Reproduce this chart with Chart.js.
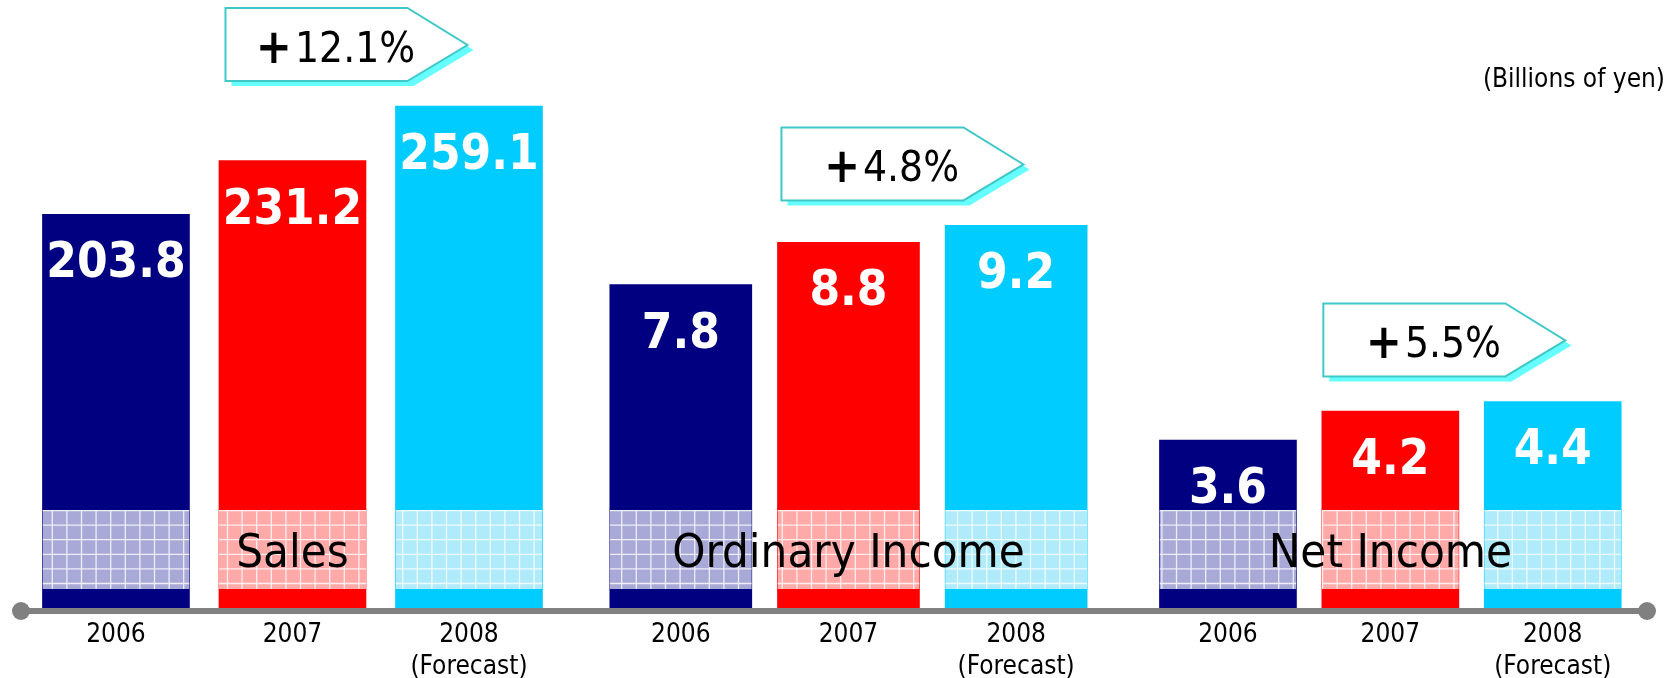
<!DOCTYPE html>
<html>
<head>
<meta charset="utf-8">
<script src="https://cdn.jsdelivr.net/npm/chart.js@4.4.1/dist/chart.umd.min.js"></script>
<style>
html, body { margin: 0; padding: 0; background: #fff; }
#wrap { width: 1674px; height: 678px; position: relative; }
</style>
</head>
<body>
<div id="wrap"><canvas id="resultsChart"></canvas></div>
<script>
var groupNames = ['Sales', 'Ordinary Income', 'Net Income'];
var yearLabels = [['2006'], ['2007'], ['2008', '(Forecast)']];
var salesValues = [203.8, 231.2, 259.1];
var ordinaryValues = [7.8, 8.8, 9.2];
var netValues = [3.6, 4.2, 4.4];
var growthRates = [12.1, 4.8, 5.5];
// slot of each bar on the x axis (groups are spaced a bit wider apart)
var salesSlots = [0, 1, 2];
var ordinarySlots = [3.2, 4.15, 5.1];
var netSlots = [6.3, 7.22, 8.14];

var barColors = ['#000080', '#ff0000', '#00ccff'];
var bandColors = ['#a9a9d8', '#ffa9a9', '#b0ebfb'];
var fontFamily = '"DejaVu Sans Condensed", "DejaVu Sans", sans-serif';

function setDataset(label, slots, values, axisId, width) {
    return {
        label: label,
        data: slots.map(function (s, i) { return { x: s, y: values[i] }; }),
        backgroundColor: barColors,
        borderWidth: 0,
        grouped: false,
        categoryPercentage: 1,
        barPercentage: 1,
        maxBarThickness: width,
        yAxisID: axisId
    };
}

var dataForResults = {
    datasets: [
        setDataset('Sales', salesSlots, salesValues, 'ySales', 147),
        setDataset('Ordinary Income', ordinarySlots, ordinaryValues, 'yOrdinary', 142),
        setDataset('Net Income', netSlots, netValues, 'yNet', 137)
    ]
};
var allSlots = salesSlots.concat(ordinarySlots, netSlots);

// grid band, numbers and group names on the bars
var barDecorations = {
    id: 'barDecorations',
    afterDatasetsDraw: function (chart) {
        var ctx = chart.ctx;
        var step = 14.6;
        chart.data.datasets.forEach(function (ds, g) {
            var bars = chart.getDatasetMeta(g).data;
            bars.forEach(function (bar, i) {
                var left = bar.x - bar.width / 2;
                var w = bar.width;
                var bandTop = bar.base - 104;
                var top = Math.max(bandTop, bar.y);
                var bottom = bar.base - 25;
                ctx.save();
                ctx.beginPath();
                ctx.rect(left, top, w, bottom - top);
                ctx.clip();
                ctx.fillStyle = bandColors[i];
                ctx.fillRect(left, top, w, bottom - top);
                ctx.strokeStyle = 'rgba(255,255,255,0.8)';
                ctx.lineWidth = 1.3;
                ctx.beginPath();
                var x0 = left - (((left - 52.3) % step) + step) % step;
                for (var x = x0; x <= left + w; x += step) {
                    ctx.moveTo(x, top);
                    ctx.lineTo(x, bottom);
                }
                for (var y = bandTop + 0.5; y <= bottom; y += step) {
                    ctx.moveTo(left, y);
                    ctx.lineTo(left + w, y);
                }
                ctx.stroke();
                ctx.restore();

                ctx.save();
                ctx.fillStyle = '#ffffff';
                ctx.font = 'bold 49px ' + fontFamily;
                ctx.textAlign = 'center';
                ctx.textBaseline = 'alphabetic';
                ctx.fillText(ds.data[i].y.toFixed(1), bar.x, bar.y + 63);
                ctx.restore();
            });
            ctx.save();
            ctx.fillStyle = '#000000';
            ctx.font = '47px ' + fontFamily;
            ctx.textAlign = 'center';
            ctx.textBaseline = 'alphabetic';
            ctx.fillText(groupNames[g], bars[1].x, bars[1].base - 47);
            ctx.restore();
        });
    },
    afterDraw: function (chart) {
        var ctx = chart.ctx;
        var area = chart.chartArea;
        // axis line with round ends
        var ly = area.bottom - 3;
        ctx.save();
        ctx.strokeStyle = '#808080';
        ctx.fillStyle = '#808080';
        ctx.lineWidth = 6;
        ctx.beginPath();
        ctx.moveTo(area.left + 21, ly);
        ctx.lineTo(area.right - 18, ly);
        ctx.stroke();
        [area.left + 21, area.right - 18].forEach(function (cx) {
            ctx.beginPath();
            ctx.arc(cx, ly, 9, 0, Math.PI * 2);
            ctx.fill();
        });
        ctx.restore();

        // growth callouts
        chart.data.datasets.forEach(function (ds, g) {
            var bars = chart.getDatasetMeta(g).data;
            var L = bars[1].x - 67;
            var T = bars[2].y - 98;
            var shape = function (dx, dy) {
                ctx.beginPath();
                ctx.moveTo(L + dx, T + dy);
                ctx.lineTo(L + 182 + dx, T + dy);
                ctx.lineTo(L + 242 + dx, T + 37 + dy);
                ctx.lineTo(L + 182 + dx, T + 73 + dy);
                ctx.lineTo(L + dx, T + 73 + dy);
                ctx.closePath();
            };
            ctx.save();
            shape(6, 5);
            ctx.fillStyle = '#66ffff';
            ctx.fill();
            shape(0, 0);
            ctx.fillStyle = '#ffffff';
            ctx.fill();
            ctx.strokeStyle = '#40c8c8';
            ctx.lineWidth = 2;
            ctx.stroke();

            var rest = growthRates[g].toFixed(1) + '%';
            ctx.font = 'bold 48px ' + fontFamily;
            var wPlus = ctx.measureText('+').width;
            ctx.font = '42px ' + fontFamily;
            var wRest = ctx.measureText(rest).width;
            var gap = 3;
            var sx = L + 110 - (wPlus + gap + wRest) / 2;
            ctx.fillStyle = '#000000';
            ctx.textAlign = 'left';
            ctx.textBaseline = 'alphabetic';
            ctx.font = 'bold 48px ' + fontFamily;
            ctx.fillText('+', sx, T + 55);
            ctx.font = '42px ' + fontFamily;
            ctx.fillText(rest, sx + wPlus + gap, T + 54);
            ctx.restore();
        });
    }
};

var optionsForResults = {
    responsive: true,
    maintainAspectRatio: false,
    animation: false,
    layout: { padding: { left: 0, right: 9, top: 0, bottom: 0 } },
    plugins: {
        legend: { display: false },
        tooltip: { enabled: false },
        title: {
            display: true, text: '(Billions of yen)', align: 'end', color: '#000',
            font: { family: fontFamily, size: 26, weight: 'normal', lineHeight: 1.2 },
            padding: { top: 65, bottom: 0 }
        }
    },
    scales: {
        x: {
            type: 'linear', min: -0.657, max: 8.776, offset: false,
            grid: { display: false, drawTicks: false, offset: false },
            border: { display: false },
            afterBuildTicks: function (scale) {
                scale.ticks = allSlots.map(function (v) { return { value: v }; });
            },
            afterFit: function (scale) { scale.height = 64; },
            ticks: {
                autoSkip: false, maxRotation: 0, minRotation: 0, padding: 5, color: '#000',
                font: { family: fontFamily, size: 26, lineHeight: 1.23 },
                callback: function (value, index) { return yearLabels[index % 3]; }
            }
        },
        ySales: { display: false, min: 0, max: 264.1 },
        yOrdinary: { display: false, min: 0, max: 12.26 },
        yNet: { display: false, min: 0, max: 10.72 }
    }
};

var resultsCtx = document.getElementById('resultsChart').getContext('2d');
var resultsChart = new Chart(resultsCtx, { type: 'bar', data: dataForResults, options: optionsForResults, plugins: [barDecorations] });
</script>
</body>
</html>
